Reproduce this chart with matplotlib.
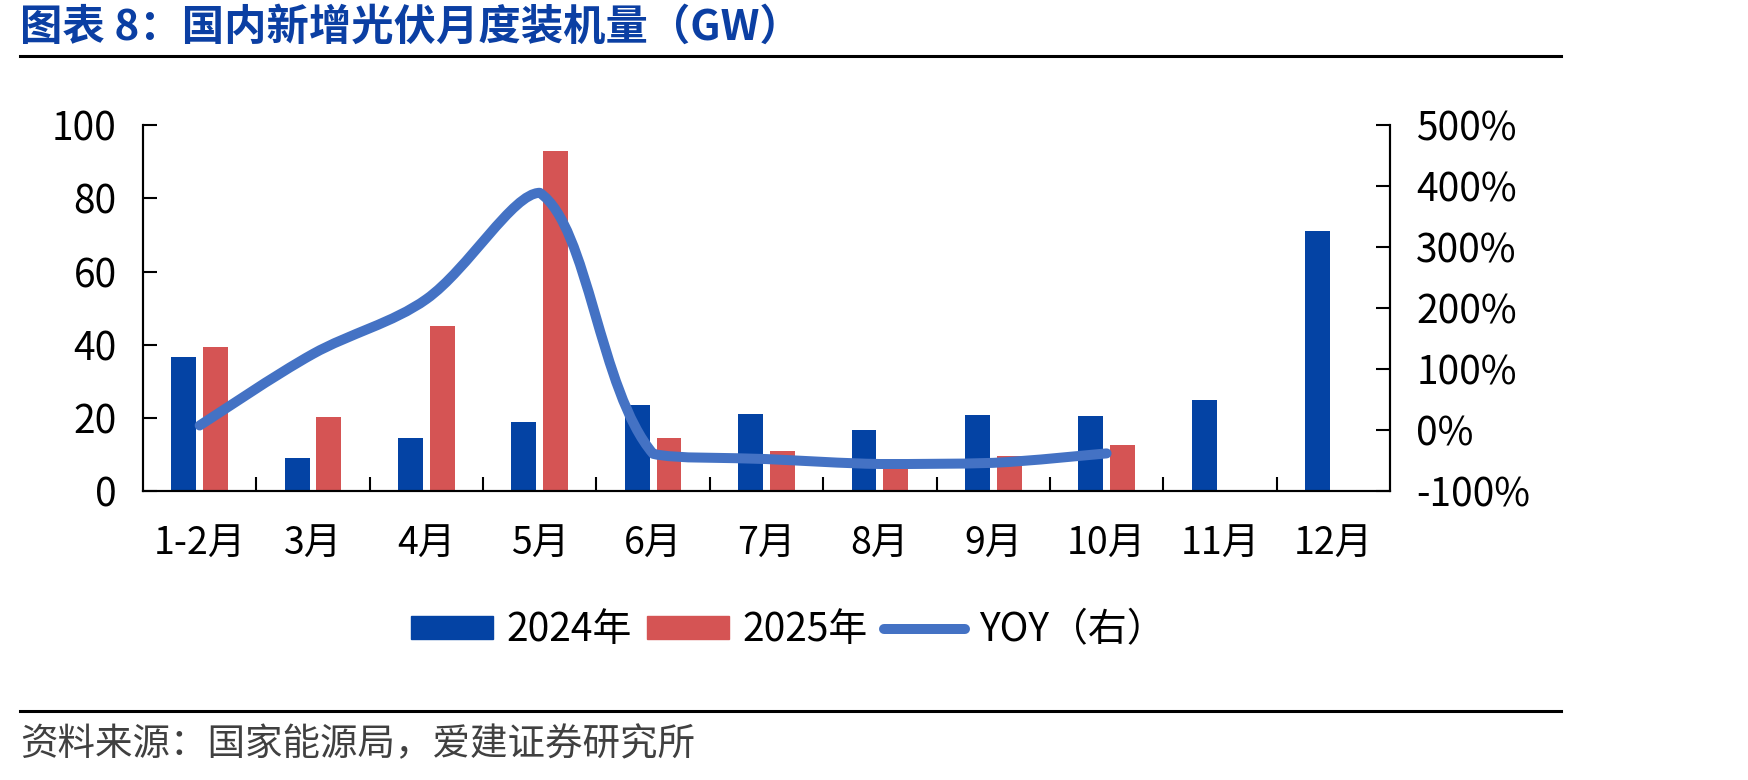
"""国内新增光伏月度装机量 - 柱状图 + 平滑YOY曲线"""
import numpy as np
import matplotlib
matplotlib.use("Agg")
import matplotlib.pyplot as plt
from matplotlib.path import Path
from matplotlib.patches import PathPatch, Patch
from matplotlib.lines import Line2D
from matplotlib.ticker import FuncFormatter, FixedLocator

plt.rcParams['font.family'] = ['Noto Sans CJK SC', 'DejaVu Sans']

meses = ["1-2月", "3月", "4月", "5月", "6月", "7月", "8月", "9月", "10月", "11月", "12月"]
v2024 = [36.7, 9.1, 14.4, 19.0, 23.5, 21.1, 16.6, 20.9, 20.4, 25.0, 71.0]
v2025 = [39.5, 20.2, 45.2, 92.9, 14.4, 11.0, 7.4, 9.7, 12.6]
yoy = [7.5, 124.9, 214.7, 389.1, -39.0, -47.6, -55.7, -53.8, -38.3]

AZUL, ROJO, LINEA = "#0443A4", "#D55454", "#4472C4"

fig = plt.figure(figsize=(17.48, 7.8), dpi=100)
ax = fig.add_axes([0.0818, 0.3705, 0.7134, 0.469])
ax2 = ax.twinx()

x = np.arange(len(meses))
w = 0.22
ax.bar(x - 0.14, v2024, w, color=AZUL, zorder=2)
ax.bar(x[:len(v2025)] + 0.14, v2025, w, color=ROJO, zorder=2)

ax.set_xlim(-0.5, len(meses) - 0.5)
ax.set_ylim(0, 100)
ax.set_yticks(range(0, 101, 20))
ax2.set_ylim(-100, 500)
ax2.set_yticks(range(-100, 501, 100))
ax2.yaxis.set_major_formatter(FuncFormatter(lambda v, _: f"{v:.0f}%"))

# curva suavizada tipo Excel: tangentes ponderadas por distancia en pantalla,
# puntos de control acotados en y para no sobrepasar los extremos del tramo
p = np.column_stack([x[:len(yoy)], yoy]).astype(float)
esc = np.array([fig.get_figwidth() * 0.7134 / len(meses), fig.get_figheight() * 0.469 / 600])
d = np.linalg.norm(np.diff(p, axis=0) * esc, axis=1)
tens = 1 / 3
verts, codes = [p[0]], [Path.MOVETO]
for i in range(len(p) - 1):
    if i > 0:
        c1 = p[i] + (p[i + 1] - p[i - 1]) * tens * d[i] / (d[i - 1] + d[i])
    else:
        c1 = p[i] + (p[i + 1] - p[i]) * tens / 2
    if i + 2 < len(p):
        c2 = p[i + 1] - (p[i + 2] - p[i]) * tens * d[i] / (d[i] + d[i + 1])
    else:
        c2 = p[i + 1] - (p[i + 1] - p[i]) * tens / 2
    lo, hi = sorted([p[i][1], p[i + 1][1]])
    c1[1] = np.clip(c1[1], lo, hi)
    c2[1] = np.clip(c2[1], lo, hi)
    verts += [c1, c2, p[i + 1]]
    codes += [Path.CURVE4] * 3
ax2.add_patch(PathPatch(Path(verts, codes), fill=False, edgecolor=LINEA, lw=7.2,
                        capstyle="round", joinstyle="round", zorder=3))

ax.xaxis.set_major_locator(FixedLocator(np.arange(0.5, len(meses) - 1, 1)))
ax.xaxis.set_major_formatter(FuncFormatter(lambda v, _: ""))
ax.xaxis.set_minor_locator(FixedLocator(x))
ax.set_xticklabels(meses, minor=True)
ax.tick_params(axis="x", which="major", direction="in", length=10, width=1.5)
ax.tick_params(axis="x", which="minor", length=0, pad=24, labelsize=27)
ax.tick_params(axis="y", direction="in", length=10, width=1.5, pad=19, labelsize=28)
ax2.tick_params(axis="y", direction="in", length=10, width=1.5, pad=19, labelsize=28)

for a in (ax, ax2):
    a.spines["top"].set_visible(False)
    for s in ("left", "right", "bottom"):
        a.spines[s].set_linewidth(1.5)
        a.spines[s].set_color("black")

handles = [Patch(color=AZUL), Patch(color=ROJO), Line2D([], [], color=LINEA, lw=7.2, solid_capstyle="round")]
fig.legend(handles, ["2024年", "2025年", "YOY（右）"], loc="center", bbox_to_anchor=(0.451, 0.192),
           ncol=3, frameon=False, fontsize=28, handlelength=2.1, handleheight=0.55,
           handletextpad=0.35, columnspacing=0.4)

fig.text(0.0115, 0.965, "图表 8：国内新增光伏月度装机量（GW）", fontsize=30.5, fontweight="bold",
         color="#0B3FA3", va="center", ha="left")
fig.add_artist(Line2D([0.0115, 0.893], [0.928, 0.928], color="black", lw=2.2, transform=fig.transFigure))
fig.add_artist(Line2D([0.0115, 0.893], [0.0885, 0.0885], color="black", lw=2.2, transform=fig.transFigure))
fig.text(0.0115, 0.045, "资料来源：国家能源局，爱建证券研究所", fontsize=27, color="#404040",
         va="center", ha="left")

fig.savefig("out.png", dpi=100)
